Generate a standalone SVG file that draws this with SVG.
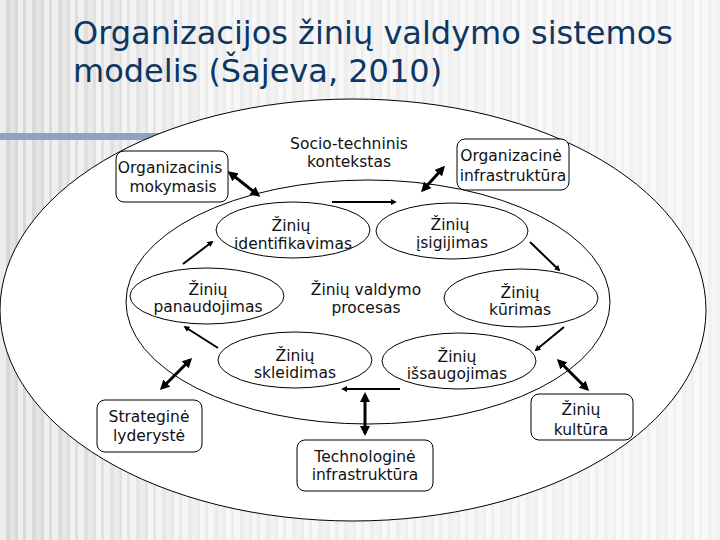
<svg xmlns="http://www.w3.org/2000/svg" width="720" height="540" viewBox="0 0 720 540">
<defs>
<style>
.t{font-family:"DejaVu Sans",Verdana,sans-serif;font-size:15.5px;text-anchor:middle;fill:#111}
.title{font-family:"DejaVu Sans",Verdana,sans-serif;font-size:32px;fill:#0c3763}
.node{fill:#fff;stroke:#000;stroke-width:1}
.thick{stroke:#000;stroke-width:3;fill:none;marker-start:url(#hb);marker-end:url(#hb)}
.thin{stroke:#000;stroke-width:2;fill:none;marker-end:url(#hs)}
</style>
<linearGradient id="bgGrad" x1="0" y1="0" x2="1" y2="0">
<stop offset="0" stop-color="#d6d6d6"/>
<stop offset="0.3" stop-color="#ececec"/>
<stop offset="1" stop-color="#f1f1f1"/>
</linearGradient>
<pattern id="stripes" x="0" y="0" width="26" height="10" patternUnits="userSpaceOnUse">
<rect x="0" y="0" width="6" height="10" fill="#fff" opacity="0.55"/>
<rect x="10" y="0" width="5" height="10" fill="#fff" opacity="0.3"/>
<rect x="18" y="0" width="5" height="10" fill="#fff" opacity="0.6"/>
</pattern>
<marker id="hb" viewBox="0 0 10 10" refX="7" refY="5" markerWidth="10" markerHeight="10" markerUnits="userSpaceOnUse" orient="auto-start-reverse">
<path d="M0,0 L10,5 L0,10 z" fill="#000"/>
</marker>
<marker id="hs" viewBox="0 0 10 10" refX="7" refY="5" markerWidth="6" markerHeight="6" markerUnits="userSpaceOnUse" orient="auto">
<path d="M0,0 L10,5 L0,10 z" fill="#000"/>
</marker>
</defs>

<g id="background">
<rect x="0" y="0" width="720" height="540" fill="url(#bgGrad)"/>
<rect x="0" y="0" width="720" height="540" fill="url(#stripes)"/>
<rect x="0" y="133" width="200" height="7" fill="#8ea3bf"/>
</g>

<g id="title">
<text class="title" x="73" y="44">Organizacijos žinių valdymo sistemos</text>
<text class="title" x="73" y="82">modelis (Šajeva, 2010)</text>
</g>

<g id="socio-technical-context">
<ellipse class="node" cx="353" cy="310" rx="353" ry="211"/>
<text class="t" x="349" y="149">Socio-techninis</text>
<text class="t" x="349" y="167">kontekstas</text>
</g>

<g id="km-process">
<ellipse class="node" cx="368" cy="302" rx="242" ry="122"/>
<text class="t" x="366" y="295">Žinių valdymo</text>
<text class="t" x="366" y="313">procesas</text>
</g>

<g id="identifikavimas">
<ellipse class="node" cx="293" cy="230" rx="77" ry="28"/>
<text class="t" x="291" y="231">Žinių</text>
<text class="t" x="293" y="249">identifikavimas</text>
</g>

<g id="isigijimas">
<ellipse class="node" cx="452" cy="231" rx="76" ry="28"/>
<text class="t" x="450" y="230">Žinių</text>
<text class="t" x="452" y="248">įsigijimas</text>
</g>

<g id="kurimas">
<ellipse class="node" cx="521" cy="298" rx="77" ry="29"/>
<text class="t" x="520" y="298">Žinių</text>
<text class="t" x="520" y="315">kūrimas</text>
</g>

<g id="issaugojimas">
<ellipse class="node" cx="459" cy="361" rx="77" ry="28"/>
<text class="t" x="457" y="362">Žinių</text>
<text class="t" x="457" y="379">išsaugojimas</text>
</g>

<g id="skleidimas">
<ellipse class="node" cx="295" cy="360" rx="77" ry="28"/>
<text class="t" x="295" y="361">Žinių</text>
<text class="t" x="295" y="378">skleidimas</text>
</g>

<g id="panaudojimas">
<ellipse class="node" cx="207" cy="296" rx="77" ry="28"/>
<text class="t" x="208" y="295">Žinių</text>
<text class="t" x="208" y="312">panaudojimas</text>
</g>

<g id="connectors">
<line class="thick" x1="230" y1="173" x2="258" y2="195"/>
<line class="thick" x1="443" y1="168" x2="423" y2="190"/>
<line class="thin" x1="332" y1="202" x2="395" y2="202"/>
<line class="thin" x1="530" y1="242" x2="559" y2="270"/>
<line class="thin" x1="564" y1="327" x2="536" y2="350"/>
<line class="thin" x1="400" y1="389" x2="343" y2="389"/>
<line class="thin" x1="218" y1="348" x2="185" y2="327"/>
<line class="thin" x1="183" y1="264" x2="212" y2="242"/>
<line class="thick" x1="162" y1="388" x2="190" y2="360"/>
<line class="thick" x1="365" y1="395" x2="365" y2="433"/>
<line class="thick" x1="559" y1="361" x2="587" y2="389"/>
</g>

<g id="organizacinis-mokymasis">
<rect class="node" x="116" y="151" width="112" height="51" rx="8"/>
<text class="t" x="170" y="173">Organizacinis</text>
<text class="t" x="173" y="192">mokymasis</text>
</g>

<g id="organizacine-infrastruktura">
<rect class="node" x="457" y="139" width="112" height="51" rx="8"/>
<text class="t" x="511" y="161">Organizacinė</text>
<text class="t" x="513" y="181">infrastruktūra</text>
</g>

<g id="ziniu-kultura">
<rect class="node" x="531" y="394" width="102" height="46" rx="8"/>
<text class="t" x="581" y="415">Žinių</text>
<text class="t" x="581" y="435">kultūra</text>
</g>

<g id="technologine-infrastruktura">
<rect class="node" x="297" y="440" width="136" height="51" rx="8"/>
<text class="t" x="365" y="462">Technologinė</text>
<text class="t" x="365" y="480">infrastruktūra</text>
</g>

<g id="strategine-lyderyste">
<rect class="node" x="97" y="400" width="105" height="52" rx="8"/>
<text class="t" x="149" y="422">Strateginė</text>
<text class="t" x="149" y="441">lyderystė</text>
</g>
</svg>
